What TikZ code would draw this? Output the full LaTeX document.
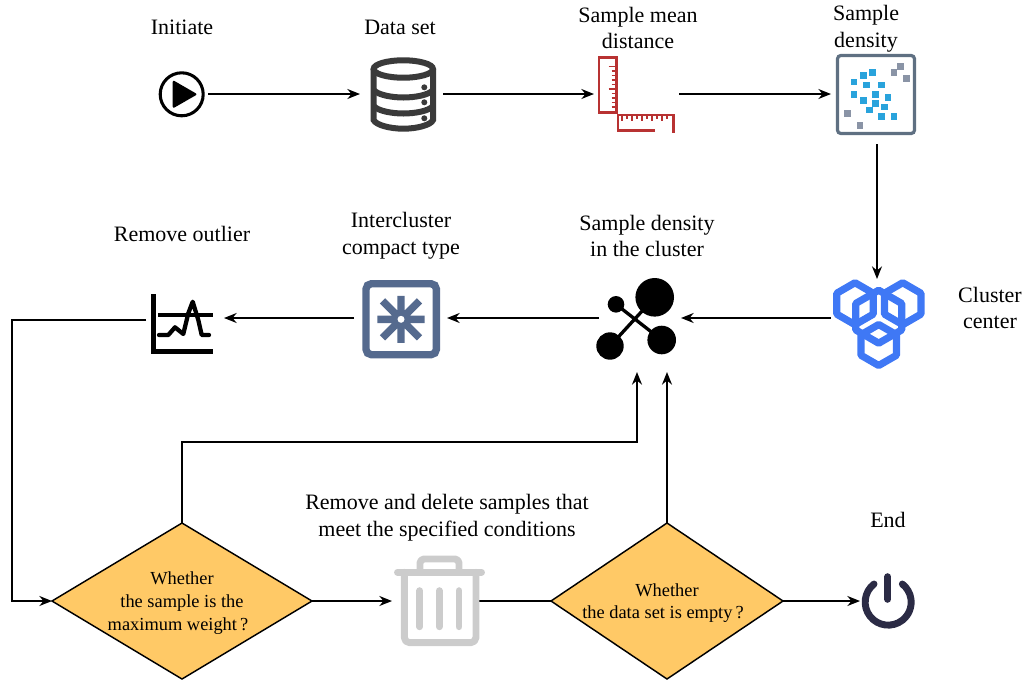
\documentclass[tikz,border=0pt]{standalone}
\usepackage{fontspec}
\setmainfont{Liberation Serif}
\usetikzlibrary{arrows.meta,shapes.geometric,calc}
\definecolor{dbgray}{HTML}{3A3A3A}
\definecolor{rulerred}{HTML}{B83232}
\definecolor{sqgray}{HTML}{5F7082}
\definecolor{dotblue}{HTML}{29A3DC}
\definecolor{dotgray}{HTML}{8A94A6}
\definecolor{snowblue}{HTML}{556A8E}
\definecolor{hexblue}{HTML}{3F78F5}
\definecolor{trashgray}{HTML}{CCCCCC}
\definecolor{powerdark}{HTML}{2B2B45}
\definecolor{diamondfill}{HTML}{FFC966}
\tikzset{
  x=0.75pt,y=-0.75pt,
  label text/.style={font=\fontsize{16.5}{20}\selectfont,align=center,inner sep=0pt},
  iconbox/.style={inner sep=0pt,outer sep=0pt},
  flow/.style={line width=1.1pt,-{Stealth[length=9.5pt,width=7.5pt]}},
  flowplain/.style={line width=1.1pt},
  decision/.style={diamond,draw=black,line width=1.1pt,fill=diamondfill,inner sep=0pt,outer sep=0pt,
    aspect=1.667},
  decision text/.style={font=\fontsize{13.8}{17}\selectfont,align=center,inner sep=0pt},
}
\begin{document}
\begin{tikzpicture}
\useasboundingbox (0,0) rectangle (1023,679);
% connector anchor boxes
\node[iconbox,minimum width=39pt,minimum height=60pt] (start) at (182,94) {};
\node[iconbox,minimum width=62.25pt,minimum height=60pt] (data) at (401.5,94) {};
\node[iconbox,minimum width=63.75pt,minimum height=60pt] (ruler) at (636.5,94) {};
\node[iconbox,minimum width=69pt,minimum height=75pt] (density) at (877,94) {};
\node[iconbox,minimum width=69pt,minimum height=58.5pt] (hex) at (877,318) {};
\node[iconbox,minimum width=61.5pt,minimum height=81pt] (graph) at (640,318) {};
\node[iconbox,minimum width=69.75pt,minimum height=60pt] (snow) at (400.5,318) {};
\node[iconbox,minimum width=58.5pt,minimum height=60pt] (chart) at (185,318) {};
\node[iconbox,minimum width=65.25pt,minimum height=60pt] (trash) at (435.5,601) {};
\node[iconbox,minimum width=42pt,minimum height=60pt] (power) at (888,601) {};
% decisions
\node[decision,minimum width=195pt,minimum height=117pt] (d1) at (182,601) {};
\node[decision,minimum width=174pt,minimum height=117pt] (d2) at (667,601) {};
\node[decision text] (d1t) at (182,603) {Whether\\the sample is the\\maximum weight\,?\hspace*{6pt}};
\node[decision text] (d2t) at (667,603) {Whether\\the data set is empty\,?\hspace*{6pt}};
% connectors
\coordinate (g1) at (637,372);
\coordinate (bend) at (637,442);
\coordinate (loop1) at (12,320);
\coordinate (chartout) at (146,320);
\draw[flow] (start.east) -- (data.west);
\draw[flow] (data.east) -- (ruler.west);
\draw[flow] (ruler.east) -- (density.west);
\draw[flow] (density.south) -- (hex.north);
\draw[flow] (hex.west) -- (graph.east);
\draw[flow] (graph.west) -- (snow.east);
\draw[flow] (snow.west) -- (chart.east);
\draw[flow] (chartout) -- (loop1) -- (loop1 |- d1.west) -- (d1.west);
\draw[flow] (d1.north) |- (bend) -- (g1);
\draw[flow] (d2.north) -- (d2.north |- graph.south);
\draw[flow] (d1.east) -- (trash.west);
\draw[flowplain] (trash.east) -- (d2.west);
\draw[flow] (d2.east) -- (power.west);
% labels
\node[label text] (t1) at (182,27) {Initiate};
\node[label text] (t2) at (400,27) {Data set};
\node[label text] (t3) at (638,28) {Sample mean\\distance};
\node[label text] (t4) at (866,29) {Sample\\density};
\node[label text] (t5) at (182,234) {Remove outlier};
\node[label text] (t6) at (401,236) {Intercluster\\compact type};
\node[label text] (t7) at (647,236) {Sample density\\in the cluster};
\node[label text] (t8) at (990,308) {Cluster\\center};
\node[label text] (t9) at (447,517.5) {Remove and delete samples that\\meet the specified conditions};
\node[label text] (t10) at (888,520) {End};
% play icon
\draw[line width=2.3pt,black] (181.7,94.3) circle[radius=21.5];
\fill[black,rounded corners=1.5pt] (172.7,80) -- (197.5,94.3) -- (172.7,108.5) -- cycle;
% database icon
\begin{scope}[dbgray,line width=4.5pt]
\draw (403.3,69) ellipse[x radius=29.7,y radius=8.7];
\draw (373.6,69) -- (373.6,120) .. controls (376,125) and (390,128.7) .. (403.3,128.7) .. controls (417,128.7) and (431,125) .. (433,120) -- (433,69);
\draw (373.6,90) .. controls (378,95) and (392,97.5) .. (403.3,97.5) .. controls (415,97.5) and (429,95) .. (433,90);
\draw (373.6,106) .. controls (378,111) and (392,113.5) .. (403.3,113.5) .. controls (415,113.5) and (429,111) .. (433,106);
\fill (424.3,87.3) circle[radius=3] (424.3,102.3) circle[radius=3] (424.3,118.3) circle[radius=3];
\end{scope}
% ruler icon
\begin{scope}[rulerred]
\draw[line width=2.1pt] (599,57.3) rectangle (616.7,112.3);
\draw[line width=2.1pt] (655,130.7) -- (618,130.7) -- (618,115) -- (673.3,115) -- (673.3,133);
\foreach \k in {0,...,9} {\draw[line width=0.8pt] ({616.7-(mod(\k,5)==0?8:5)},{66.5+\k*4.5}) -- (616.7,{66.5+\k*4.5});}
\foreach \k in {0,...,9} {\draw[line width=0.8pt] ({622+\k*5},115) -- ({622+\k*5},{mod(\k,2)==0?121:119});}
\end{scope}
% density icon
\draw[sqgray,line width=2.4pt,rounded corners=2.5pt] (837.5,55.5) rectangle (914.5,133.5);
\foreach \a/\b in {822/126,850/107,877/98,859/135,905/135,822/163,887/163,924/173,850/182,887/191,914/201,868/210,905/229,942/229}
  \fill[dotblue] ({580+\a/3-3.3},{40+\b/3-3.3}) rectangle ++(6.6,6.6);
\foreach \a/\b in {942/98,961/79,980/116,803/220,840/257}
  \fill[dotgray] ({580+\a/3-3.3},{40+\b/3-3.3}) rectangle ++(6.6,6.6);
% snow icon
\begin{scope}[snowblue]
\draw[line width=5.5pt,rounded corners=4pt] (366,283.7) rectangle (436.4,354.7);
\draw[line width=5.6pt] (377.3,319.3) -- (424.7,319.3) (401,295.8) -- (401,342.8)
  (382.5,300.8) -- (419.5,337.8) (419.5,300.8) -- (382.5,337.8);
\fill (401,319.3) circle[radius=8];
\fill[white] (401,319.3) circle[radius=3.5];
\end{scope}
% chart icon
\draw[black,line width=3.5pt] (153.3,294) -- (153.3,351.3) -- (212.7,351.3);
\draw[black,line width=2.6pt] (158,315) -- (212.7,315);
\draw[black,line width=3.2pt,line join=round,line cap=round] (159,335) -- (168.3,335) -- (175,327.3) -- (183.3,334) -- (188.3,313.3) -- (192.7,301.7) -- (198.3,320) -- (201.7,335) -- (209,335);
% graph icon
\draw[black,line width=2.5pt] (616,304.3) -- (661.7,340) (610,346) -- (654.7,297.3);
\fill[black] (654.7,297.3) circle[radius=19.3] (616,304.3) circle[radius=8.3] (610,346) circle[radius=13.7] (661.7,340) circle[radius=14.3];
% hexagon icon
\begin{scope}[hexblue,line width=5.4pt,line join=round]
\foreach \cx/\cy/\rr in {855/303.7/21,902.7/303.7/21,878.7/316.7/26.5,878.7/345/20.5}
  \draw ({\cx},{\cy-\rr}) -- ({\cx+0.866*\rr},{\cy-0.5*\rr}) -- ({\cx+0.866*\rr},{\cy+0.5*\rr}) -- ({\cx},{\cy+\rr}) -- ({\cx-0.866*\rr},{\cy+0.5*\rr}) -- ({\cx-0.866*\rr},{\cy-0.5*\rr}) -- cycle;
\end{scope}
% trash icon
\begin{scope}[trashgray,line width=5.2pt,line cap=round,line join=round]
\draw (397.5,572.3) -- (481.5,572.3);
\draw[rounded corners=3pt] (420,572.3) -- (420,559) -- (459,559) -- (459,572.3);
\draw[rounded corners=4pt] (404.3,572.3) -- (404.3,642.7) -- (476,642.7) -- (476,572.3);
\draw (419.7,590.7) -- (419.7,626.7) (439.3,590.7) -- (439.3,626.7) (459,590.7) -- (459,626.7);
\end{scope}
% power icon
\begin{scope}[powerdark,line width=5.2pt,line cap=round]
\draw (874,584) arc[start angle=232,end angle=-52,radius=23];
\draw (887.7,576.7) -- (887.7,599.3);
\end{scope}
\end{tikzpicture}
\end{document}
